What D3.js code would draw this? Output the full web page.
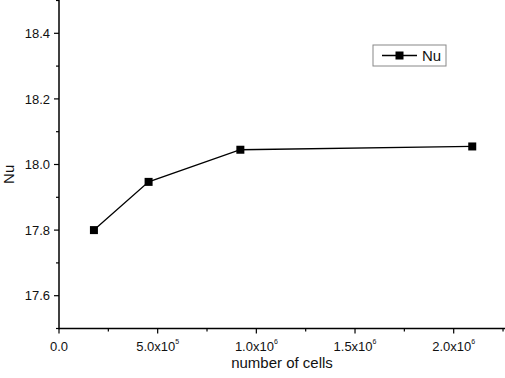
<!DOCTYPE html>
<html>
<head>
<meta charset="utf-8">
<script src="https://cdn.jsdelivr.net/npm/d3@7"></script>
<style>
  body { margin: 0; background: #fff; }
  svg { display: block; font-family: "Liberation Sans", Arial, sans-serif; }
</style>
</head>
<body>
<div id="chart"></div>
<script>
// data
const cells = [177000, 454000, 919000, 2094000];
const nu = [17.80, 17.947, 18.045, 18.055];
const seriesName = 'Nu';
const xMajor = [0, 500000, 1000000, 1500000, 2000000];
const xMinor = [250000, 750000, 1250000, 1750000, 2250000];
const yMajor = [17.6, 17.8, 18.0, 18.2, 18.4];
const yMinor = [17.5, 17.7, 17.9, 18.1, 18.3, 18.5];

const W = 505, H = 378;
const left = 59, bottom = 328.5;

const svg = d3.select('#chart').append('svg')
    .attr('width', W)
    .attr('height', H);

const x = d3.scaleLinear().domain([0, 2260000]).range([left, 505]);
const y = d3.scaleLinear().domain([17.5, 18.5]).range([bottom, 0.5]);

// superscript tick labels, e.g. 5.0x10^5
function xLabel(d) {
    if (d === 0) return [['0.0', null]];
    const e = Math.floor(Math.log10(d));
    const m = (d / Math.pow(10, e)).toFixed(1);
    return [[m + 'x10', null], [String(e), 'sup']];
}

const xAxis = svg.append('g').attr('transform', `translate(0,${bottom})`);
xAxis.append('line')
    .attr('x1', left).attr('x2', W)
    .attr('stroke', '#000').attr('stroke-width', 1.5);
xAxis.selectAll('.minor').data(xMinor).enter().append('line')
    .attr('x1', d => x(d)).attr('x2', d => x(d))
    .attr('y1', 0).attr('y2', 3)
    .attr('stroke', '#000').attr('stroke-width', 1.2);
const xt = xAxis.selectAll('.major').data(xMajor).enter().append('g')
    .attr('transform', d => `translate(${x(d)},0)`);
xt.append('line').attr('y1', 0).attr('y2', 5)
    .attr('stroke', '#000').attr('stroke-width', 1.2);
const xtext = xt.append('text')
    .attr('y', 22)
    .attr('text-anchor', 'middle')
    .attr('font-size', 13)
    .attr('fill', '#111');
xtext.each(function (d) {
    const t = d3.select(this);
    xLabel(d).forEach(([s, kind]) => {
        const sp = t.append('tspan').text(s);
        if (kind) sp.attr('font-size', 7).attr('dy', -7);
    });
});

svg.append('text')
    .attr('x', x(1130000)).attr('y', 368)
    .attr('text-anchor', 'middle')
    .attr('font-size', 15)
    .attr('fill', '#111')
    .text('number of cells');

const yAxis = svg.append('g').attr('transform', `translate(${left},0)`);
yAxis.append('line')
    .attr('y1', 0).attr('y2', bottom + 0.75)
    .attr('stroke', '#000').attr('stroke-width', 1.5);
yAxis.selectAll('.minor').data(yMinor).enter().append('line')
    .attr('x1', 0).attr('x2', -3)
    .attr('y1', d => y(d)).attr('y2', d => y(d))
    .attr('stroke', '#000').attr('stroke-width', 1.2);
const yt = yAxis.selectAll('.major').data(yMajor).enter().append('g')
    .attr('transform', d => `translate(0,${y(d)})`);
yt.append('line').attr('x1', 0).attr('x2', -5)
    .attr('stroke', '#000').attr('stroke-width', 1.2);
yt.append('text')
    .attr('x', -9).attr('dy', '0.36em')
    .attr('text-anchor', 'end')
    .attr('font-size', 13)
    .attr('fill', '#111')
    .text(d3.format('.1f'));

svg.append('text')
    .attr('transform', `translate(14,${y(17.97)}) rotate(-90)`)
    .attr('text-anchor', 'middle')
    .attr('font-size', 15)
    .attr('fill', '#111')
    .text('Nu');

const pts = cells.map((c, i) => [c, nu[i]]);

svg.append('path')
    .datum(pts)
    .attr('fill', 'none')
    .attr('stroke', '#000')
    .attr('stroke-width', 1.3)
    .attr('d', d3.line().x(d => x(d[0])).y(d => y(d[1])));

svg.selectAll('.pt').data(pts).enter().append('rect')
    .attr('x', d => x(d[0]) - 4)
    .attr('y', d => y(d[1]) - 4)
    .attr('width', 8).attr('height', 8)
    .attr('fill', '#000');

// legend
const lg = svg.append('g').attr('transform', 'translate(373,45)');
lg.append('rect')
    .attr('width', 73).attr('height', 21)
    .attr('fill', '#fff')
    .attr('stroke', '#888').attr('stroke-width', 1);
lg.append('line')
    .attr('x1', 9).attr('x2', 44).attr('y1', 10.5).attr('y2', 10.5)
    .attr('stroke', '#000').attr('stroke-width', 1.3);
lg.append('rect')
    .attr('x', 22.5).attr('y', 6.5).attr('width', 8).attr('height', 8)
    .attr('fill', '#000');
lg.append('text')
    .attr('x', 49).attr('y', 16)
    .attr('font-size', 15)
    .attr('fill', '#111')
    .text(seriesName);
</script>
</body>
</html>
